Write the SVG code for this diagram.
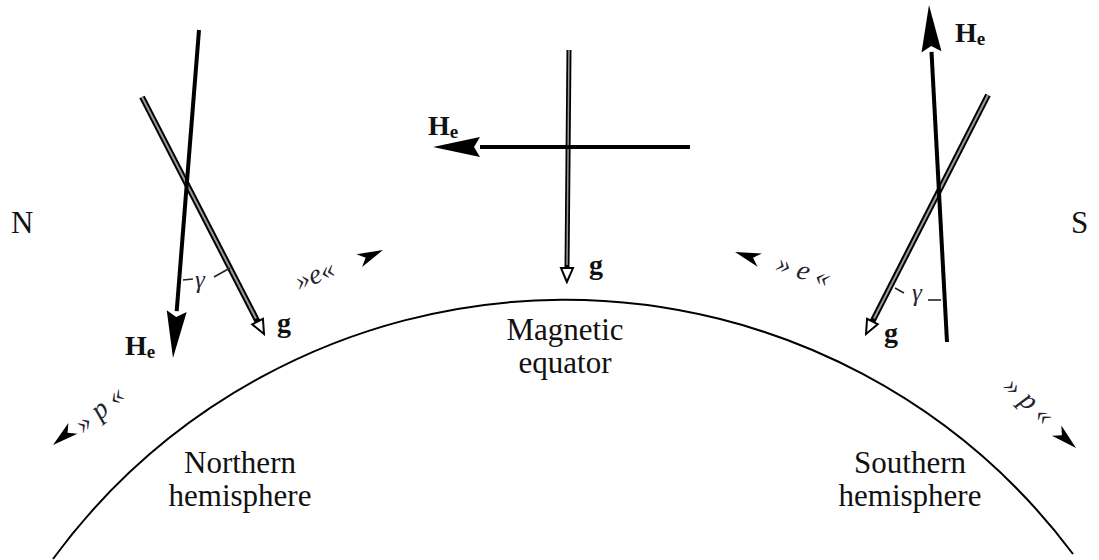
<svg xmlns="http://www.w3.org/2000/svg" width="1099" height="560" viewBox="0 0 1099 560">
<style>
  .txt { font-family: "Liberation Serif", "Times New Roman", serif; fill: #111; }
  .big { font-size: 31px; }
  .vec { font-family: "Liberation Serif", "Times New Roman", serif; font-weight: bold; fill: #111; font-size: 28px; }
  .sub { font-size: 19px; }
  .ital { font-family: "Liberation Serif", "Times New Roman", serif; font-style: italic; fill: #222530; font-size: 28px; }
  .he { stroke: #000; stroke-width: 4; fill: none; }
  .gout { stroke: #000; stroke-width: 6; fill: none; }
  .gin { stroke: #999; stroke-width: 2; fill: none; }
  .tick { stroke: #222; stroke-width: 1.6; fill: none; }
</style>
<defs>
  <marker id="heHead" markerUnits="userSpaceOnUse" viewBox="-2 -12 52 24" markerWidth="52" markerHeight="24" refX="0" refY="0" orient="auto">
    <path d="M47,0 L0,-10 L6,0 L0,10 Z" fill="#000"/>
  </marker>
  <marker id="gHead" markerUnits="userSpaceOnUse" viewBox="-2 -9 18 18" markerWidth="18" markerHeight="18" refX="0" refY="0" orient="auto">
    <path d="M14,0 L0,-6 L0,6 Z" fill="#fff" stroke="#000" stroke-width="2"/>
  </marker>
  <path id="dart" d="M0,0 L-26,-7 L-19,0 L-26,7 Z" fill="#000"/>
</defs>

<g id="earth">
  <path d="M53 559 A635 635 0 0 1 1073 554" fill="none" stroke="#000" stroke-width="2"/>
  <text class="txt big" x="565" y="340" text-anchor="middle">Magnetic</text>
  <text class="txt big" x="565" y="373" text-anchor="middle">equator</text>
  <text class="txt big" x="240" y="473" text-anchor="middle">Northern</text>
  <text class="txt big" x="240" y="506" text-anchor="middle">hemisphere</text>
  <text class="txt big" x="910" y="473" text-anchor="middle">Southern</text>
  <text class="txt big" x="910" y="506" text-anchor="middle">hemisphere</text>
  <text class="txt big" x="11" y="233">N</text>
  <text class="txt big" x="1071" y="233">S</text>
</g>

<g id="connectors">
  <g id="left-vectors">
    <line class="gout" x1="142" y1="97" x2="257.6" y2="321.6" marker-end="url(#gHead)"/>
    <line class="gin" x1="142" y1="97" x2="256" y2="318.5"/>
    <line class="he" x1="199" y1="30" x2="176.7" y2="311.1" marker-end="url(#heHead)"/>
    <line class="tick" x1="183" y1="280" x2="193" y2="279"/>
    <line class="tick" x1="214" y1="277" x2="230" y2="268"/>
  </g>
  <g id="center-vectors">
    <line class="gout" x1="569" y1="50" x2="567" y2="268" marker-end="url(#gHead)" style="stroke-width:5"/>
    <line class="gin" x1="569" y1="50" x2="567" y2="265" style="stroke-width:1.5"/>
    <line class="he" x1="690" y1="147" x2="480" y2="147" marker-end="url(#heHead)"/>
  </g>
  <g id="right-vectors">
    <line class="gout" x1="988" y1="95" x2="872.4" y2="321.5" marker-end="url(#gHead)"/>
    <line class="gin" x1="988" y1="95" x2="874" y2="318.5"/>
    <line class="he" x1="947" y1="342" x2="931.5" y2="51.9" marker-end="url(#heHead)"/>
    <line class="tick" x1="895" y1="288" x2="904" y2="293"/>
    <line class="tick" x1="928" y1="300" x2="941" y2="300"/>
  </g>
  <g id="motion-arrows">
    <use href="#dart" transform="translate(383,250) rotate(-24)"/>
    <use href="#dart" transform="translate(735,252) rotate(198)"/>
    <use href="#dart" transform="translate(53,445) rotate(140)"/>
    <use href="#dart" transform="translate(1076,448) rotate(42)"/>
  </g>
</g>

<g id="labels">
  <text class="vec" x="125" y="355">H<tspan class="sub" dy="3">e</tspan></text>
  <text class="vec" x="428" y="135">H<tspan class="sub" dy="3">e</tspan></text>
  <text class="vec" x="955" y="42">H<tspan class="sub" dy="3">e</tspan></text>
  <text class="vec" x="277" y="332">g</text>
  <text class="vec" x="589" y="274">g</text>
  <text class="vec" x="884" y="342">g</text>
  <text class="ital" x="200" y="288" text-anchor="middle" style="font-size:25px">γ</text>
  <text class="ital" x="917" y="301" text-anchor="middle" style="font-size:25px">γ</text>
  <text class="ital" x="0" y="0" text-anchor="middle" transform="translate(318,283) rotate(-22)">»e«</text>
  <text class="ital" x="0" y="0" text-anchor="middle" transform="translate(801,279) rotate(18)">» e «</text>
  <text class="ital" x="0" y="0" text-anchor="middle" transform="translate(105,416) rotate(-40)">» p «</text>
  <text class="ital" x="0" y="0" text-anchor="middle" transform="translate(1023,407) rotate(43)">» p «</text>
</g>
</svg>
